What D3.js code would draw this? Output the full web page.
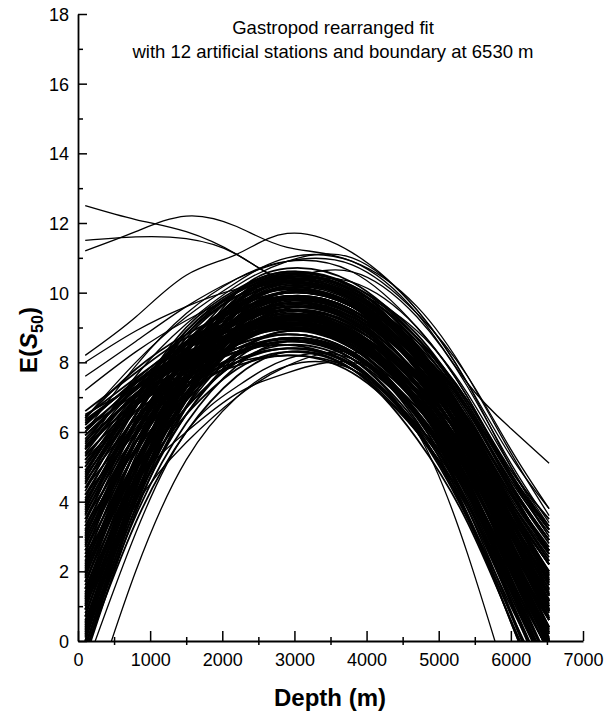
<!DOCTYPE html>
<html>
<head>
<meta charset="utf-8">
<script src="https://cdn.jsdelivr.net/npm/d3@7"></script>
<style>
  body { margin: 0; background: #fff; }
  svg { display: block; font-family: "Liberation Sans", Arial, Helvetica, sans-serif; }
</style>
</head>
<body>
<div id="chart"></div>
<script>
const depths = [100, 800, 1500, 2200, 2900, 3800, 4700, 5400, 6000, 6530];

// main bundle of bootstrap fits, E(S50) at each depth
const bandFits = [
  [-0.5, 3.7, 6.7, 8.6, 9.3, 8.9, 7.3, 5.3, 3.0, 1.2],
  [-0.4, 4.1, 7.4, 9.4, 10.2, 9.8, 8.4, 6.7, 4.7, 3.2],
  [-0.3, 3.4, 6.0, 7.6, 8.3, 7.8, 5.8, 3.4, 0.6, -1.8],
  [-0.2, 4.0, 7.1, 9.0, 9.8, 9.4, 7.9, 6.1, 4.0, 2.3],
  [0.0, 4.5, 7.7, 9.7, 10.5, 10.1, 8.7, 6.9, 4.9, 3.5],
  [0.1, 3.8, 6.5, 8.2, 8.9, 8.4, 6.8, 4.7, 2.3, 0.3],
  [0.2, 4.2, 7.1, 8.9, 9.6, 9.2, 7.7, 5.8, 3.6, 1.9],
  [0.3, 4.4, 7.4, 9.3, 10.0, 9.6, 8.2, 6.4, 4.4, 2.8],
  [0.4, 4.2, 7.0, 8.8, 9.5, 9.1, 7.5, 5.6, 3.5, 1.8],
  [0.5, 4.6, 7.7, 9.7, 10.4, 10.0, 8.4, 6.4, 4.3, 2.6],
  [0.6, 4.0, 6.5, 8.1, 8.7, 8.2, 6.5, 4.3, 2.0, 0.0],
  [0.7, 4.6, 7.5, 9.3, 10.0, 9.6, 8.2, 6.3, 4.4, 2.9],
  [0.9, 5.0, 8.0, 10.0, 10.7, 10.3, 8.7, 6.7, 4.5, 2.9],
  [1.0, 4.4, 6.9, 8.5, 9.1, 8.7, 7.0, 4.9, 2.7, 0.9],
  [1.1, 4.7, 7.4, 9.2, 9.8, 9.4, 7.9, 6.0, 4.0, 2.5],
  [1.2, 4.9, 7.7, 9.5, 10.2, 9.8, 8.2, 6.1, 3.9, 2.2],
  [1.3, 4.7, 7.1, 8.5, 9.1, 8.6, 7.0, 5.0, 2.6, 0.6],
  [1.4, 5.1, 7.7, 9.3, 10.0, 9.6, 8.2, 6.4, 4.3, 2.6],
  [1.5, 4.5, 6.5, 7.8, 8.3, 7.8, 6.0, 3.8, 1.1, -1.2],
  [1.7, 5.1, 7.5, 9.0, 9.6, 9.2, 7.7, 5.8, 3.5, 1.7],
  [1.8, 5.5, 8.1, 9.6, 10.3, 9.9, 8.5, 6.7, 4.5, 2.9],
  [1.9, 4.9, 6.9, 8.2, 8.7, 8.2, 6.5, 4.4, 1.8, -0.3],
  [2.0, 5.2, 7.5, 8.8, 9.4, 8.9, 7.4, 5.5, 3.2, 1.3],
  [2.1, 5.5, 7.8, 9.2, 9.8, 9.4, 8.0, 6.1, 3.9, 2.2],
  [2.2, 5.2, 7.4, 8.9, 9.4, 9.0, 7.5, 5.5, 3.3, 1.5],
  [2.3, 5.7, 8.1, 9.7, 10.3, 9.9, 8.6, 6.9, 4.8, 3.3],
  [2.4, 4.9, 6.7, 8.0, 8.4, 7.9, 6.0, 3.5, 0.8, -1.5],
  [2.6, 5.7, 7.9, 9.4, 9.9, 9.5, 8.1, 6.2, 4.2, 2.6],
  [2.7, 6.0, 8.4, 10.0, 10.6, 10.2, 8.7, 6.8, 4.7, 3.2],
  [2.8, 5.4, 7.3, 8.5, 9.0, 8.6, 7.0, 4.8, 2.5, 0.6],
  [2.9, 5.7, 7.8, 9.2, 9.7, 9.3, 7.9, 5.9, 3.8, 2.2],
  [3.0, 6.0, 8.1, 9.6, 10.1, 9.7, 8.4, 6.6, 4.6, 3.1],
  [3.1, 5.7, 7.6, 8.7, 9.2, 8.8, 7.2, 5.4, 3.2, 1.5],
  [3.2, 6.2, 8.3, 9.6, 10.1, 9.7, 8.1, 6.2, 4.0, 2.3],
  [3.3, 5.5, 7.1, 8.0, 8.4, 7.9, 6.2, 4.2, 1.8, -0.3],
  [3.5, 6.2, 8.1, 9.2, 9.7, 9.3, 7.9, 6.2, 4.1, 2.6],
  [3.6, 6.5, 8.7, 9.9, 10.4, 9.9, 8.4, 6.5, 4.3, 2.6],
  [3.7, 5.9, 7.5, 8.4, 8.8, 8.3, 6.7, 4.8, 2.4, 0.6],
  [3.8, 6.3, 8.0, 9.1, 9.5, 9.1, 7.6, 5.9, 3.8, 2.2],
  [3.9, 6.5, 8.4, 9.4, 9.9, 9.4, 7.9, 5.9, 3.7, 1.9],
  [4.0, 6.3, 8.1, 9.2, 9.6, 9.2, 7.4, 5.2, 2.8, 0.9],
  [4.1, 6.7, 8.8, 10.0, 10.5, 10.1, 8.6, 6.6, 4.5, 2.9],
  [4.2, 6.0, 7.6, 8.5, 8.8, 8.3, 6.4, 4.0, 1.4, -0.9],
  [4.4, 6.7, 8.6, 9.7, 10.1, 9.7, 8.1, 6.0, 3.8, 2.0],
  [4.5, 7.0, 9.0, 10.1, 10.6, 10.2, 8.8, 6.8, 4.8, 3.2],
  [4.6, 6.4, 8.0, 8.9, 9.2, 8.7, 6.9, 4.6, 2.1, 0.0],
  [4.7, 6.8, 8.5, 9.5, 9.9, 9.5, 7.8, 5.7, 3.4, 1.6],
  [4.8, 7.0, 8.8, 9.9, 10.3, 9.9, 8.3, 6.3, 4.2, 2.5],
  [4.9, 6.8, 7.9, 8.7, 9.0, 8.5, 7.0, 5.1, 2.8, 0.9],
  [5.0, 7.0, 8.2, 9.0, 9.3, 8.8, 7.4, 5.6, 3.4, 1.6],
  [5.2, 6.6, 7.4, 7.9, 8.2, 7.7, 6.0, 3.9, 1.3, -0.9],
  [5.3, 6.8, 7.7, 8.3, 8.6, 8.1, 6.5, 4.5, 2.0, 0.0],
  [5.4, 7.1, 8.1, 8.7, 9.0, 8.6, 7.2, 5.6, 3.4, 1.7],
  [5.5, 6.9, 7.8, 8.3, 8.6, 8.2, 6.7, 5.0, 2.7, 0.8],
  [5.6, 6.8, 7.5, 8.0, 8.2, 7.8, 6.2, 4.4, 2.0, -0.1],
  [5.7, 7.4, 8.4, 9.0, 9.3, 8.9, 7.6, 6.1, 4.0, 2.4],
  [5.8, 7.3, 8.5, 9.1, 9.5, 9.0, 7.6, 5.7, 3.6, 2.0],
  [5.9, 7.2, 8.2, 8.8, 9.1, 8.6, 7.1, 5.0, 2.8, 1.1],
  [6.1, 7.1, 8.0, 8.4, 8.7, 8.2, 6.6, 4.5, 2.2, 0.2],
  [6.2, 7.5, 8.6, 9.2, 9.5, 8.9, 7.4, 5.3, 3.1, 1.3],
  [6.3, 7.4, 8.3, 8.8, 9.1, 8.7, 7.2, 5.2, 3.0, 1.4],
  [6.4, 7.8, 8.8, 9.5, 9.8, 9.3, 8.0, 6.1, 4.2, 2.7],
  [6.5, 7.3, 7.9, 8.3, 8.5, 7.9, 6.1, 3.6, 1.0, -1.2],
  [6.6, 7.7, 8.7, 9.2, 9.5, 9.0, 7.6, 5.8, 3.8, 2.2]
];

// second pass of the bundle, fits that fall off faster towards the boundary
const bandFitsSteep = [
  [-0.35, 3.85, 6.9, 8.8, 9.55, 9.15, 7.4, 5.2, 2.6, 0.35],
  [-0.2, 4.3, 7.55, 9.55, 10.35, 9.95, 8.35, 6.3, 3.9, 1.95],
  [-0.1, 3.6, 6.25, 7.9, 8.6, 8.1, 6.1, 3.55, 0.55, -2.15],
  [0.0, 4.1, 7.1, 8.95, 9.7, 9.3, 7.6, 5.45, 2.9, 0.7],
  [0.15, 4.45, 7.55, 9.5, 10.25, 9.85, 8.25, 6.15, 3.75, 1.75],
  [0.25, 4.0, 6.75, 8.5, 9.2, 8.75, 6.95, 4.65, 2.0, -0.35],
  [0.35, 4.4, 7.4, 9.3, 10.0, 9.6, 7.85, 5.6, 3.05, 0.85],
  [0.45, 4.2, 6.95, 8.7, 9.35, 8.9, 7.15, 4.85, 2.3, 0.0],
  [0.55, 4.4, 7.25, 9.05, 9.75, 9.35, 7.65, 5.45, 3.05, 0.95],
  [0.7, 4.8, 7.85, 9.85, 10.55, 10.15, 8.35, 6.05, 3.5, 1.35],
  [0.8, 4.2, 6.7, 8.3, 8.9, 8.45, 6.55, 4.1, 1.45, -0.95],
  [0.9, 4.65, 7.45, 9.25, 9.9, 9.5, 7.85, 5.65, 3.3, 1.3],
  [1.05, 4.95, 7.85, 9.75, 10.45, 10.05, 8.25, 5.9, 3.3, 1.15],
  [1.15, 4.55, 7.0, 8.5, 9.1, 8.65, 6.8, 4.45, 1.75, -0.65],
  [1.25, 4.9, 7.55, 9.25, 9.9, 9.5, 7.85, 5.7, 3.25, 1.15],
  [1.35, 4.7, 7.1, 8.65, 9.25, 8.8, 6.9, 4.45, 1.6, -0.9],
  [1.5, 4.9, 7.3, 8.75, 9.35, 8.9, 7.15, 4.9, 2.15, -0.25],
  [1.6, 5.3, 7.9, 9.45, 10.15, 9.75, 8.15, 6.05, 3.5, 1.35],
  [1.7, 4.7, 6.7, 8.0, 8.5, 8.0, 6.05, 3.6, 0.55, -2.15],
  [1.85, 5.15, 7.5, 8.9, 9.5, 9.05, 7.35, 5.15, 2.45, 0.1],
  [1.95, 5.5, 7.95, 9.4, 10.05, 9.65, 8.05, 5.9, 3.3, 1.15],
  [2.05, 5.05, 7.15, 8.55, 9.05, 8.6, 6.8, 4.45, 1.65, -0.8],
  [2.15, 5.45, 7.8, 9.25, 9.85, 9.4, 7.8, 5.7, 3.1, 0.9],
  [2.25, 5.2, 7.25, 8.6, 9.1, 8.65, 6.8, 4.3, 1.45, -1.05],
  [2.4, 5.45, 7.65, 9.15, 9.65, 9.25, 7.6, 5.35, 2.85, 0.65],
  [2.5, 5.85, 8.25, 9.85, 10.45, 10.05, 8.45, 6.35, 3.85, 1.85],
  [2.6, 5.15, 7.0, 8.25, 8.7, 8.25, 6.3, 3.65, 0.75, -1.85],
  [2.75, 5.7, 7.85, 9.3, 9.8, 9.4, 7.8, 5.55, 3.1, 1.0],
  [2.85, 6.0, 8.25, 9.8, 10.35, 9.95, 8.35, 6.2, 3.75, 1.75],
  [2.95, 5.55, 7.45, 8.6, 9.1, 8.7, 6.9, 4.6, 1.95, -0.35],
  [3.05, 5.95, 8.05, 9.4, 9.9, 9.5, 7.8, 5.55, 3.0, 0.85],
  [3.15, 5.75, 7.6, 8.8, 9.25, 8.8, 7.1, 4.9, 2.3, 0.0],
  [3.3, 5.95, 7.85, 8.95, 9.45, 9.05, 7.35, 5.3, 2.75, 0.65],
  [3.4, 6.35, 8.5, 9.75, 10.25, 9.8, 8.05, 5.85, 3.25, 1.05],
  [3.5, 5.7, 7.3, 8.2, 8.6, 8.1, 6.25, 4.0, 1.2, -1.25],
  [3.65, 6.25, 8.05, 9.15, 9.6, 9.2, 7.55, 5.55, 3.05, 1.0],
  [3.75, 6.5, 8.55, 9.65, 10.15, 9.65, 7.95, 5.7, 3.1, 0.85],
  [3.85, 6.1, 7.8, 8.8, 9.2, 8.75, 6.85, 4.5, 1.7, -0.65],
  [3.95, 6.5, 8.4, 9.55, 10.0, 9.6, 7.9, 5.75, 3.25, 1.15],
  [4.05, 6.25, 8.0, 8.95, 9.35, 8.85, 6.95, 4.45, 1.65, -0.9],
  [4.2, 6.5, 8.35, 9.45, 9.85, 9.45, 7.55, 5.1, 2.4, 0.05],
  [4.3, 6.85, 8.9, 10.05, 10.55, 10.15, 8.5, 6.2, 3.75, 1.65],
  [4.4, 6.2, 7.8, 8.7, 9.0, 8.5, 6.45, 3.8, 0.85, -1.85],
  [4.55, 6.75, 8.55, 9.6, 10.0, 9.6, 7.75, 5.35, 2.7, 0.4],
  [4.65, 7.0, 8.9, 10.0, 10.45, 10.05, 8.35, 6.05, 3.6, 1.45],
  [4.75, 6.6, 7.95, 8.8, 9.1, 8.6, 6.75, 4.35, 1.55, -0.95],
  [4.85, 6.9, 8.35, 9.25, 9.6, 9.15, 7.4, 5.15, 2.5, 0.2],
  [5.0, 6.8, 8.1, 8.9, 9.25, 8.8, 6.95, 4.6, 1.85, -0.6],
  [5.1, 6.8, 7.8, 8.5, 8.8, 8.3, 6.55, 4.3, 1.5, -0.95],
  [5.2, 7.05, 8.15, 8.85, 9.15, 8.7, 7.1, 5.1, 2.5, 0.25],
  [5.35, 6.75, 7.6, 8.1, 8.4, 7.95, 6.15, 3.95, 1.1, -1.45],
  [5.5, 7.1, 8.05, 8.65, 8.95, 8.5, 6.85, 4.8, 2.1, -0.2],
  [5.55, 7.25, 8.25, 8.85, 9.15, 8.75, 7.2, 5.35, 2.8, 0.65],
  [5.65, 7.1, 8.15, 8.7, 9.05, 8.6, 6.95, 4.85, 2.25, 0.0],
  [5.75, 7.0, 7.85, 8.4, 8.65, 8.2, 6.45, 4.2, 1.5, -0.9],
  [5.9, 7.25, 8.2, 8.7, 9.0, 8.55, 6.9, 4.8, 2.2, -0.1],
  [6.0, 7.4, 8.55, 9.15, 9.5, 8.95, 7.3, 5.0, 2.45, 0.25],
  [6.1, 7.3, 8.25, 8.8, 9.1, 8.65, 6.95, 4.6, 2.0, -0.15],
  [6.25, 7.45, 8.4, 8.95, 9.25, 8.75, 7.1, 4.8, 2.3, 0.05],
  [6.35, 7.4, 8.25, 8.75, 9.0, 8.4, 6.55, 3.95, 1.15, -1.35],
  [6.45, 7.55, 8.5, 9.0, 9.3, 8.85, 7.2, 5.0, 2.5, 0.4]
];

// fits lying above the bundle
const upperFits = [
  [12.5, 12.1, 11.75, 11.1, 10.3, 9.7, 8.4, 6.6, 4.4, 2.5],
  [11.2, 11.75, 12.2, 11.9, 11.3, 10.9, 9.4, 7.4, 6.1, 5.1],
  [11.5, 11.6, 11.55, 11.1, 10.3, 10.0, 8.9, 7.1, 5.0, 3.3],
  [8.2, 9.3, 10.5, 11.1, 11.7, 11.15, 9.5, 7.4, 5.3, 3.8],
  [8.0, 8.9, 9.6, 10.1, 10.4, 10.6, 9.3, 7.3, 5.1, 3.4],
  [7.2, 8.3, 9.2, 9.9, 10.3, 10.3, 9.0, 7.0, 4.8, 3.0],
  [7.6, 8.6, 9.6, 10.4, 10.9, 10.8, 9.4, 7.6, 5.5, 3.8],
  [6.4, 8.0, 9.3, 10.3, 11.0, 10.9, 9.6, 7.6, 5.4, 3.6],
  [5.5, 7.6, 9.1, 10.2, 10.9, 11.0, 9.5, 7.4, 5.0, 3.2],
  [6.0, 7.9, 9.4, 10.4, 10.9, 10.6, 9.0, 7.0, 4.7, 3.0]
];

// fits lying below the bundle
const lowerFits = [
  [-2.3, 2.0, 5.2, 7.0, 7.9, 7.8, 6.0, 2.5, -1.5, -5.0],
  [-0.8, 3.1, 6.0, 7.3, 8.1, 8.1, 6.6, 4.2, 1.3, -1.0],
  [1.0, 3.9, 5.7, 7.0, 7.9, 8.3, 7.3, 5.3, 2.8, 0.6],
  [2.5, 4.6, 6.0, 7.1, 7.7, 8.0, 7.0, 5.2, 3.0, 1.0]
];

const xMajor = [0, 1000, 2000, 3000, 4000, 5000, 6000, 7000];
const xMinor = [500, 1500, 2500, 3500, 4500, 5500, 6500];
const yMajor = [0, 2, 4, 6, 8, 10, 12, 14, 16, 18];
const yMinor = [1, 3, 5, 7, 9, 11, 13, 15, 17];

const titleLines = ['Gastropod rearranged fit', 'with 12 artificial stations and boundary at 6530 m'];

const width = 605, height = 713;
const margin = { left: 78, right: 22, top: 14, bottom: 72 };

const svg = d3.select('#chart')
    .append('svg')
    .attr('width', width)
    .attr('height', height);

const x = d3.scaleLinear()
    .domain([0, 7000])
    .range([margin.left, width - margin.right]);

const y = d3.scaleLinear()
    .domain([0, 18])
    .range([height - margin.bottom, margin.top]);

svg.append('clipPath')
    .attr('id', 'plot-clip')
    .append('rect')
    .attr('x', x(0))
    .attr('y', y(18))
    .attr('width', x(7000) - x(0))
    .attr('height', y(0) - y(18));

const line = d3.line()
    .x((v, i) => x(depths[i]))
    .y(v => y(v))
    .curve(d3.curveNatural);

const plot = svg.append('g')
    .attr('clip-path', 'url(#plot-clip)');

// the dense bundle is drawn a little heavier, as in the scanned original
plot.append('g')
    .selectAll('path')
    .data(bandFits.concat(bandFitsSteep))
    .enter()
        .append('path')
        .attr('d', line)
        .attr('fill', 'none')
        .attr('stroke', '#000')
        .attr('stroke-width', 1.8);

plot.append('g')
    .selectAll('path')
    .data(upperFits.concat(lowerFits))
    .enter()
        .append('path')
        .attr('d', line)
        .attr('fill', 'none')
        .attr('stroke', '#000')
        .attr('stroke-width', 1.3);

// axes: ticks point into the plot
const yAxis = svg.append('g')
    .attr('transform', `translate(${x(0)},0)`)
    .call(d3.axisLeft(y)
        .tickValues(yMajor)
        .tickSize(-9)
        .tickSizeOuter(0)
        .tickPadding(9)
        .tickFormat(d3.format('d')));

svg.append('g')
    .attr('transform', `translate(${x(0)},0)`)
    .call(d3.axisLeft(y).tickValues(yMinor).tickSize(-5).tickFormat(''))
    .select('.domain').remove();

const xAxis = svg.append('g')
    .attr('transform', `translate(0,${y(0)})`)
    .call(d3.axisBottom(x)
        .tickValues(xMajor)
        .tickSize(-10)
        .tickSizeOuter(0)
        .tickPadding(9)
        .tickFormat(d3.format('d')));

svg.append('g')
    .attr('transform', `translate(0,${y(0)})`)
    .call(d3.axisBottom(x).tickValues(xMinor).tickSize(-4).tickFormat(''))
    .select('.domain').remove();

svg.append('g')
    .attr('transform', `translate(0,${y(0)})`)
    .call(d3.axisBottom(x).tickValues(xMinor).tickSize(4).tickFormat(''))
    .select('.domain').remove();

svg.selectAll('.domain').attr('stroke-width', 1.8);
svg.selectAll('.tick line').attr('stroke-width', 1.5);
svg.selectAll('.tick text')
    .attr('font-size', 18)
    .attr('font-family', '"Liberation Sans", Arial, sans-serif')
    .attr('fill', '#000');
xAxis.selectAll('.tick text').attr('dy', '0.9em');
yAxis.selectAll('.tick text').attr('dy', '0.36em');

// title
svg.append('g')
    .selectAll('text')
    .data(titleLines)
    .enter()
        .append('text')
        .attr('x', 333)
        .attr('y', (d, i) => 34 + i * 24)
        .attr('text-anchor', 'middle')
        .attr('font-size', 18.5)
        .attr('fill', '#000')
        .text(d => d);

svg.append('text')
    .attr('x', 330)
    .attr('y', 706)
    .attr('text-anchor', 'middle')
    .attr('font-size', 24)
    .attr('font-weight', 'bold')
    .text('Depth (m)');

const yLabel = svg.append('text')
    .attr('transform', 'translate(37,340) rotate(-90)')
    .attr('text-anchor', 'middle')
    .attr('font-size', 24)
    .attr('font-weight', 'bold');
yLabel.append('tspan').text('E(');
yLabel.append('tspan').attr('font-style', 'italic').text('S');
yLabel.append('tspan').attr('font-size', 16).attr('dy', 6).text('50');
yLabel.append('tspan').attr('dy', -6).text(')');
</script>
</body>
</html>
